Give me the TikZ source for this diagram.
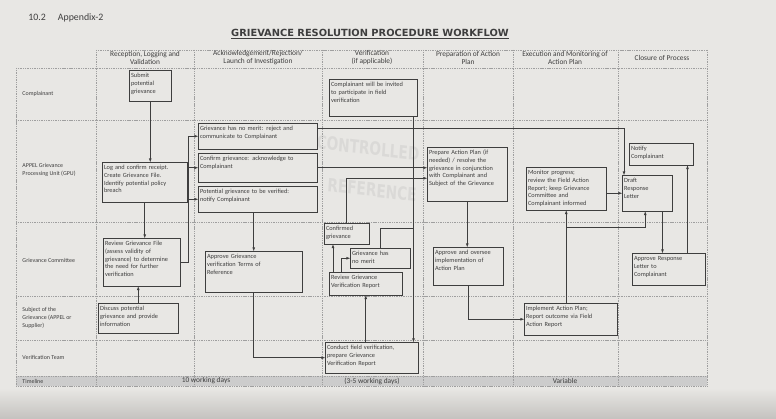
\documentclass[tikz,border=0pt]{standalone}
\usepackage{fontspec}
\setmainfont{Carlito}
\newfontfamily\headfont{DejaVu Sans}

\definecolor{paper}{RGB}{232,231,228}
\definecolor{shadow}{RGB}{196,194,191}
\definecolor{ink}{RGB}{62,62,62}

\begin{document}
\begin{tikzpicture}[x=0.5mm, y=-0.5mm, >=latex,
    gbox/.style={draw=ink, line width=0.8pt, anchor=north west, align=left,
      inner xsep=2.5pt, inner ysep=3pt, text height=7.5pt, font=\fontsize{9}{11}\selectfont, text=ink},
    lane/.style={anchor=west, align=left, font=\fontsize{8.5}{11}\selectfont, text=ink},
    colhead/.style={align=center, font=\fontsize{10.5}{11.5}\selectfont, text=ink},
    tablegrid/.style={gray!75, line width=0.5pt, dash pattern=on 1.5pt off 1pt},
    conn/.style={draw=ink, line width=0.8pt},
    stamp/.style={font=\headfont\bfseries\fontsize{26}{28}\selectfont, text=gray, opacity=0.13,
      inner sep=0pt, xscale=0.75, rotate=-5}]

    % Paper
    \useasboundingbox (0,0) rectangle (776,419);
    \fill[paper] (0,0) rectangle (776,419);
    \shade[top color=paper, bottom color=shadow] (0,388) rectangle (776,419);

    % Heading
    \node[anchor=west, font=\fontsize{14}{16}\selectfont, text=ink] (appx) at (26,18) {10.2\hspace{6mm}Appendix-2};
    \node[font=\headfont\bfseries\fontsize{14}{16}\selectfont, text=ink] (title) at (370,34)
      {\underline{GRIEVANCE RESOLUTION PROCEDURE WORKFLOW}};

    % Table
    \fill[gray!40] (16,376) rectangle (707,386);
    \draw[tablegrid] (96,50) -- (707,50);
    \foreach \y in {68,120,222,296,340,376,386}
    \draw[tablegrid] (16,\y) -- (707,\y);
    \draw[tablegrid] (16,68) -- (16,386);
    \foreach \x in {96,194,322,423,513,618,707}
    \draw[tablegrid] (\x,50) -- (\x,386);

    % Column heads
    \node[colhead] (hdRecv) at (145,58) {Reception, Logging and\\Validation};
    \node[colhead] (hdAck) at (258,58) {Acknowledgement/Rejection/\\Launch of Investigation};
    \node[colhead] (hdVer) at (372,58) {Verification\\(if applicable)};
    \node[colhead] (hdPrep) at (468,58) {Preparation of Action\\Plan};
    \node[colhead] (hdExec) at (565,58) {Execution and Monitoring of\\Action Plan};
    \node[colhead] (hdClose) at (662,58) {Closure of Process};

    % Row labels
    \node[lane] (lnComp) at (20,94) {Complainant};
    \node[lane] (lnGPU) at (20,170) {APPEL Grievance\\Processing Unit (GPU)};
    \node[lane] (lnComm) at (20,260) {Grievance Committee};
    \node[lane] (lnSubj) at (20,318) {Subject of the\\Grievance (APPEL or\\Supplier)};
    \node[lane] (lnTeam) at (20,357) {Verification Team};

    % Timeline
    \node[lane] (tmLabel) at (20,381) {Timeline};
    \node[colhead] (tmAck) at (206,381) {10 working days};
    \node[colhead] (tmVer) at (372,381) {(3-5 working days)};
    \node[colhead] (tmRest) at (565,381) {Variable};

    % Stamp
    \node[stamp] (stampA) at (368,148) {CONTROLLED};
    \node[stamp] (stampB) at (372,190) {REFERENCE};

    % Steps
    \node[gbox, text width=19.2mm, text depth=10.7mm] (submit) at (129,70) {Submit\\potential\\grievance};
    \node[gbox, text width=40.7mm, text depth=15.2mm] (log) at (102,162)
      {Log and confirm receipt.\\Create Grievance File.\\Identify potential policy\\breach};
    \node[gbox, text width=57.7mm, text depth=8.2mm] (reject) at (198,123)
      {Grievance has no merit: reject and\\communicate to Complainant};
    \node[gbox, text width=57.7mm, text depth=9.7mm] (confirm) at (198,153)
      {Confirm grievance: acknowledge to\\Complainant};
    \node[gbox, text width=57.7mm, text depth=8.2mm] (verify) at (198,186)
      {Potential grievance to be verified:\\notify Complainant};
    \node[gbox, text width=36.7mm, text depth=19.2mm] (review) at (103,238)
      {Review Grievance File\\(assess validity of\\grievance) to determine\\the need for further\\verification};
    \node[gbox, text width=38.2mm, text depth=10.2mm] (discuss) at (98,303)
      {Discuss potential\\grievance and provide\\information};
    \node[gbox, text width=46.7mm, text depth=15.7mm] (approveTOR) at (205,251)
      {Approve Grievance\\verification Terms of\\Reference};
    \node[gbox, text width=42.2mm, text depth=13.7mm] (invite) at (329,79)
      {Complainant will be invited\\to participate in field\\verification};
    \node[gbox, text width=20.7mm, text depth=5.7mm] (confirmed) at (324,223) {Confirmed\\grievance};
    \node[gbox, text width=28.2mm, text depth=5.2mm] (nomerit) at (350,248) {Grievance has\\no merit};
    \node[gbox, text width=34.7mm, text depth=6.7mm] (reviewVR) at (329,272)
      {Review Grievance\\Verification Report};
    \node[gbox, text width=44.7mm, text depth=10.7mm] (conduct) at (325,342)
      {Conduct field verification,\\prepare Grievance\\Verification Report};
    \node[gbox, text width=38.2mm, text depth=22.2mm] (prepare) at (427,147)
      {Prepare Action Plan (if\\needed) / resolve the\\grievance in conjunction\\with Complainant and\\Subject of the Grievance};
    \node[gbox, text width=33.2mm, text depth=14.2mm] (oversee) at (433,247)
      {Approve and oversee\\implementation of\\Action Plan};
    \node[gbox, text width=44.7mm, text depth=11.2mm] (implement) at (524,303)
      {Implement Action Plan;\\Report outcome via Field\\Action Report};
    \node[gbox, text width=38.2mm, text depth=16.7mm] (monitor) at (526,167)
      {Monitor progress;\\review the Field Action\\Report; keep Grievance\\Committee and\\Complainant informed};
    \node[gbox, text width=23.2mm, text depth=13.2mm] (draft) at (622,175) {Draft\\Response\\Letter};
    \node[gbox, text width=30.2mm, text depth=6.2mm] (notify) at (629,143) {Notify\\Complainant};
    \node[gbox, text width=34.7mm, text depth=11.2mm] (approveRL) at (632,253)
      {Approve Response\\Letter to\\Complainant};

    % Connectors
    \coordinate (fork) at (188,0);
    \coordinate (join) at (413,228);
    \coordinate (tap) at (566,227);

    \draw[conn, ->] (submit.south) -- (submit.south |- log.north);
    \draw[conn, ->] (log.south) -- (log.south |- review.north);
    \draw[conn, ->] (discuss.north) -- (discuss.north |- review.south);
    \draw[conn] (review.east) -| (fork |- reject.west);
    \foreach \b in {reject, confirm, verify}
    \draw[conn, ->] (fork |- \b.west) -- (\b.west);
    \draw[conn, ->] (approveTOR.north |- verify.south) -- (approveTOR.north);
    \draw[conn, ->] (approveTOR.south) |- (conduct.west);
    \draw[conn, ->] (reviewVR.south |- conduct.north) -- (reviewVR.south);
    \draw[conn, ->] ([xshift=2mm]reviewVR.north west) -- ([xshift=2mm]reviewVR.north west |- confirmed.south);
    \draw[conn, ->] ([xshift=6mm]reviewVR.north west) |- (nomerit.west);
    \draw[conn, ->] ([xshift=-2mm]invite.south east) -- ([xshift=-2mm]invite.south east |- conduct.north);
    \draw[conn] (nomerit.north) |- (join);
    \draw[conn, ->] (confirm.east) -- (confirm.east -| prepare.west);
    \draw[conn, ->] (confirmed.north) |- ([yshift=-2mm]prepare.west);
    \draw[conn, ->] ([yshift=4mm]reject.east) -| ([xshift=1mm]draft.north west);
    \draw[conn, ->] (prepare.south) -- (prepare.south |- oversee.north);
    \draw[conn, ->] (oversee.south) |- (implement.west);
    \draw[conn, ->] (monitor.south |- implement.north) -- (monitor.south);
    \draw[conn, ->] (tap) -| ([xshift=-1mm]draft.south);
    \draw[conn, ->] (monitor.east |- draft.west) -- (draft.west);
    \draw[conn, ->] ([xshift=-5mm]draft.south east) -- ([xshift=-5mm]draft.south east |- approveRL.north);
    \draw[conn, ->] ([xshift=-3mm]notify.south east |- approveRL.north) -- ([xshift=-3mm]notify.south east);
\end{tikzpicture}
\end{document}
